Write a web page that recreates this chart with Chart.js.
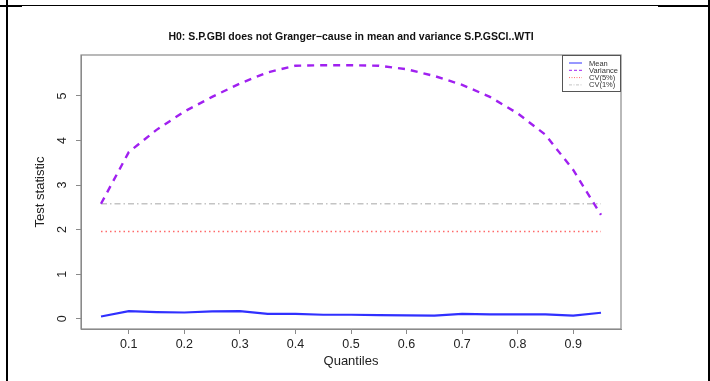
<!DOCTYPE html>
<html>
<head>
<meta charset="utf-8">
<script src="https://cdn.jsdelivr.net/npm/chart.js@4/dist/chart.umd.min.js"></script>
<style>
  html, body { margin: 0; padding: 0; background: #ffffff; }
  #wrap { position: relative; width: 710px; height: 381px; overflow: hidden; }
  canvas { position: absolute; left: 0; top: 0; }
  .rule { position: absolute; background: #000; }
</style>
</head>
<body>
<div id="wrap">
  <canvas id="chart" width="710" height="381"></canvas>
  <!-- table cell borders around the figure -->
  <div class="rule" style="left:0;top:5px;width:710px;height:1px;"></div>
  <div class="rule" style="left:0;top:5px;width:22px;height:2px;"></div>
  <div class="rule" style="left:658px;top:5px;width:52px;height:2px;"></div>
  <div class="rule" style="left:6px;top:0;width:2px;height:381px;"></div>
  <div class="rule" style="left:708px;top:0;width:2px;height:381px;"></div>
</div>
<script>
// Quantile grid and test statistics
const quantiles = [0.05, 0.10, 0.15, 0.20, 0.25, 0.30, 0.35, 0.40, 0.45, 0.50,
                   0.55, 0.60, 0.65, 0.70, 0.75, 0.80, 0.85, 0.90, 0.95];
const meanStat = [0.05, 0.17, 0.15, 0.14, 0.165, 0.17, 0.11, 0.11, 0.09, 0.09,
                  0.08, 0.075, 0.07, 0.11, 0.10, 0.10, 0.10, 0.07, 0.135];
const varianceStat = [2.58, 3.74, 4.24, 4.65, 4.98, 5.28, 5.53, 5.68, 5.69, 5.69,
                      5.68, 5.60, 5.45, 5.25, 4.98, 4.61, 4.13, 3.34, 2.33];
// Critical values drawn across the quantile range
const cvRange = [0.05, 0.95];
const cv5 = [1.96, 1.96];
const cv1 = [2.58, 2.58];

const seriesNames = ['Mean', 'Variance', 'CV(5%)', 'CV(1%)'];
const xTicks = [0.1, 0.2, 0.3, 0.4, 0.5, 0.6, 0.7, 0.8, 0.9];
const yTicks = [0, 1, 2, 3, 4, 5];
const xTickLabels = ['0.1', '0.2', '0.3', '0.4', '0.5', '0.6', '0.7', '0.8', '0.9'];
const yTickLabels = ['0', '1', '2', '3', '4', '5'];

const titleText = 'H0: S.P.GBI does not Granger\u2212cause in mean and variance S.P.GSCI..WTI';
const FONT = "'Liberation Sans', Arial, Helvetica, sans-serif";

const toPoints = (xs, ys) => xs.map((x, i) => ({ x: x, y: ys[i] }));

// Frame around the plotting region, title and the boxed legend
const framePlugin = {
  id: 'frame',
  afterDraw(chart) {
    const { ctx, chartArea: a } = chart;
    ctx.save();
    ctx.strokeStyle = '#8a8a8a';
    ctx.lineWidth = 1.2;
    ctx.strokeRect(a.left, a.top, a.right - a.left, a.bottom - a.top);

    // main title
    ctx.fillStyle = '#111';
    ctx.font = 'bold 10.5px ' + FONT;
    ctx.textAlign = 'center';
    ctx.textBaseline = 'middle';
    ctx.fillText(titleText, (a.left + a.right) / 2, 37);

    // legend box in the top-right corner
    const w = 59, h = 37;
    const lx = a.right - w, ly = a.top;
    ctx.fillStyle = '#fff';
    ctx.fillRect(lx, ly, w, h);
    ctx.strokeStyle = '#555';
    ctx.lineWidth = 1;
    ctx.strokeRect(lx + 0.5, ly + 0.5, w - 1, h - 1);
    ctx.font = '7.5px ' + FONT;
    ctx.textAlign = 'left';
    chart.data.datasets.forEach((ds, i) => {
      const yy = ly + 8 + i * 7.3;
      ctx.beginPath();
      ctx.strokeStyle = ds.borderColor;
      ctx.lineWidth = 1;
      ctx.setLineDash(ds.legendDash || []);
      ctx.moveTo(lx + 7, yy);
      ctx.lineTo(lx + 20, yy);
      ctx.stroke();
      ctx.setLineDash([]);
      ctx.fillStyle = '#333';
      ctx.fillText(ds.label, lx + 27, yy + 0.5);
    });
    ctx.restore();
  }
};

new Chart(document.getElementById('chart'), {
  type: 'line',
  data: {
    datasets: [
      {
        label: seriesNames[0],
        data: toPoints(quantiles, meanStat),
        borderColor: '#3030ff',
        borderWidth: 2.2,
        pointRadius: 0,
        tension: 0
      },
      {
        label: seriesNames[1],
        data: toPoints(quantiles, varianceStat),
        borderColor: '#a020f0',
        borderWidth: 2.4,
        borderDash: [7, 6],
        legendDash: [3, 2],
        pointRadius: 0,
        tension: 0
      },
      {
        label: seriesNames[2],
        data: toPoints(cvRange, cv5),
        borderColor: '#ff6a6a',
        borderWidth: 1.4,
        borderDash: [1.5, 3],
        legendDash: [1, 1.5],
        pointRadius: 0
      },
      {
        label: seriesNames[3],
        data: toPoints(cvRange, cv1),
        borderColor: '#c4c4c4',
        borderWidth: 1.4,
        borderDash: [6, 3, 1.5, 3],
        legendDash: [3, 1.5, 1, 1.5],
        pointRadius: 0
      }
    ]
  },
  options: {
    responsive: false,
    animation: false,
    layout: { padding: { left: 0, right: 89, top: 55, bottom: 0 } },
    plugins: {
      legend: { display: false },
      tooltip: { enabled: false },
      title: { display: false }
    },
    scales: {
      x: {
        type: 'linear',
        min: 0.014,
        max: 0.986,
        afterFit(scale) { scale.height = 52; },
        afterBuildTicks(scale) { scale.ticks = xTicks.map(v => ({ value: v })); },
        grid: { display: true, drawOnChartArea: false, drawTicks: true, tickLength: 5, color: '#8a8a8a', lineWidth: 1 },
        border: { display: true, color: '#8a8a8a' },
        ticks: {
          padding: 3,
          color: '#222',
          font: { family: FONT, size: 12.5 },
          maxRotation: 0,
          autoSkip: false,
          callback: (v) => { const i = xTicks.indexOf(v); return i >= 0 ? xTickLabels[i] : ''; }
        },
        title: {
          display: true,
          text: 'Quantiles',
          color: '#222',
          font: { family: FONT, size: 13 },
          padding: { top: 0, bottom: 12 }
        }
      },
      y: {
        type: 'linear',
        min: -0.23,
        max: 5.92,
        afterFit(scale) { scale.width = 81; },
        afterBuildTicks(scale) { scale.ticks = yTicks.map(v => ({ value: v })); },
        grid: { display: true, drawOnChartArea: false, drawTicks: true, tickLength: 5, color: '#8a8a8a', lineWidth: 1 },
        border: { display: true, color: '#8a8a8a' },
        ticks: {
          padding: 10,
          color: '#222',
          minRotation: 90,
          maxRotation: 90,
          crossAlign: 'center',
          font: { family: FONT, size: 12.5 },
          autoSkip: false,
          callback: (v) => { const i = yTicks.indexOf(v); return i >= 0 ? yTickLabels[i] : ''; }
        },
        title: {
          display: true,
          text: 'Test statistic',
          color: '#222',
          font: { family: FONT, size: 13 },
          padding: { top: 33, bottom: 0 }
        }
      }
    }
  },
  plugins: [framePlugin]
});
</script>
</body>
</html>
